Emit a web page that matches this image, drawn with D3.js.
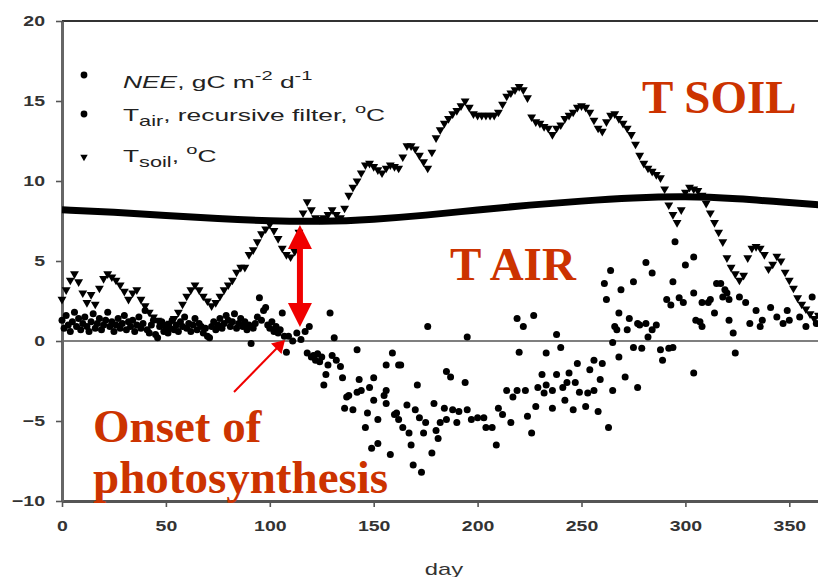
<!DOCTYPE html>
<html>
<head>
<meta charset="utf-8">
<script src="https://cdn.jsdelivr.net/npm/d3@7"></script>
<style>
  body { margin: 0; background: #fff; }
  svg { display: block; }
  .tick text { font-family: "Liberation Sans", Arial, sans-serif; font-size: 15px; fill: #333; font-weight: bold; }
</style>
</head>
<body>
<div id="chart"></div>
<script>
"use strict";

// x tick labels (day) and y tick labels
var dayTicks = [0, 50, 100, 150, 200, 250, 300, 350],
  valueTicks = [-10, -5, 0, 5, 10, 15, 20];

// T air, recursive filter (smooth curve)
var tairDays = [0, 25, 50, 75, 100, 125, 150, 175, 200, 225, 250, 275, 300, 325, 350, 365],
  tairValues = [8.2, 8.05, 7.85, 7.65, 7.5, 7.45, 7.6, 7.85, 8.2, 8.5, 8.75, 8.95, 9.05, 8.9, 8.65, 8.5];

// T soil, one value every 2 days from day 0
var soilStep = 2,
  soilValues = [
    2.6, 3.2, 3.8, 4.2, 3.7, 3.0, 2.4, 2.9, 2.3, 3.3, 3.9, 4.2, 4.0, 3.8, 3.5, 3.1,
    2.6, 3.0, 3.2, 2.6, 2.2, 1.8, 1.5, 1.3, 1.0, 0.8, 1.1, 1.4, 1.8, 2.3, 2.8, 3.2,
    3.5, 3.2, 2.8, 2.5, 2.2, 2.4, 2.8, 3.2, 3.5, 3.8, 4.3, 4.6, 4.6, 5.4, 5.7, 6.2,
    6.7, 7.0, 7.3, 6.9, 6.4, 5.8, 5.4, 5.25, 5.6, 6.8, 8.0, 8.7, 8.2, 7.7, 7.6, 7.7,
    7.9, 8.2, 7.9, 7.7, 8.3, 9.1, 9.6, 10.0, 10.5, 11.0, 11.1, 10.9, 10.7, 10.5, 10.8, 11.0,
    10.9, 10.8, 11.5, 12.2, 12.2, 12.0, 11.6, 11.2, 10.8, 11.8, 12.7, 13.2, 13.6, 13.9, 14.2, 14.4,
    14.7, 15.0, 14.6, 14.2, 14.1, 14.1, 14.1, 14.1, 14.1, 14.3, 14.8, 15.3, 15.5, 15.7, 15.9, 15.7,
    15.2, 14.0, 13.7, 13.6, 13.4, 13.3, 12.9, 13.3, 13.5, 13.9, 14.1, 14.3, 14.6, 14.7, 14.6, 14.3,
    13.8, 13.3, 13.1, 13.7, 14.1, 14.2, 13.9, 13.6, 13.3, 12.9, 12.3, 11.6, 11.1, 10.8, 10.6, 10.4,
    10.2, 9.5, 8.5, 7.9, 7.4, 8.2, 9.3, 9.6, 9.5, 9.4, 9.1, 8.6, 8.0, 7.4, 6.8, 6.2,
    5.2, 4.6, 4.2, 3.8, 4.1, 5.2, 5.8, 5.9, 5.8, 5.4, 4.5, 4.8, 5.3, 5.0, 4.3, 3.8,
    3.3, 2.7, 2.3, 2.0, 1.7, 1.4, 1.6
  ];

// NEE, gC m-2 d-1 : [day, value]
var neeData = [
  [0,1.3],[1,0.8],[2,1.6],[3,1.0],[4,0.6],[5,1.2],[6,1.8],[7,0.9],[8,1.4],[9,0.7],[10,1.1],[11,1.5],
  [12,0.9],[13,0.6],[14,1.2],[15,1.7],[16,0.8],[17,1.1],[18,1.4],[19,0.7],[20,1.0],[21,1.3],[22,1.8],
  [23,0.9],[24,1.2],[25,0.6],[26,1.0],[27,1.4],[28,0.8],[29,1.1],[30,1.6],[31,0.7],[32,1.2],[33,0.9],
  [34,1.3],[35,0.6],[36,1.0],[37,1.5],[38,0.8],[39,1.1],[40,1.9],[41,0.7],[42,0.5],[43,1.0],[44,1.3],
  [45,0.4],[46,0.2],[47,0.9],[48,1.2],[49,0.6],[50,1.0],[51,0.5],[52,0.8],[53,1.3],[54,0.7],[55,1.0],
  [56,0.6],[57,1.2],[58,0.9],[59,1.5],[60,0.8],[61,1.1],[62,0.6],[63,1.0],[64,1.4],[65,0.7],[66,1.1],
  [67,0.9],[68,0.5],[69,0.8],[70,0.3],[71,0.2],[72,0.9],[73,1.2],[74,0.7],[75,1.0],[76,1.4],[77,0.8],
  [78,1.1],[79,1.6],[80,1.3],[81,0.9],[82,1.2],[83,1.7],[84,0.8],[85,1.1],[86,1.4],[87,0.9],[88,1.2],
  [89,0.7],[90,1.0],[91,-0.15],[92,0.8],[93,1.1],[94,1.5],[95,2.7],[96,1.3],[97,1.9],[98,2.1],[99,1.0],
  [100,0.8],[101,1.2],[102,0.6],[103,0.9],[104,0.5],[105,0.7],[106,1.75],[107,0.3],
  [108,-0.7],[109,0.3],[111,0.0],[113,0.5],[115,0.1],[117,0.6],[118,-0.75],[119,0.9],[120,-1.0],
  [121,-0.9],[122,-1.2],[123,-0.8],[124,-1.3],[125,-1.0],[126,-2.75],[127,-2.1],[128,-1.5],[129,1.75],
  [130,-0.9],[131,0.2],[132,-1.2],[134,-1.6],[135,-2.3],[136,-4.2],[137,-3.5],[138,-3.4],[140,-4.3],
  [142,-0.55],[142,-3.2],[143,-2.4],[144,-3.1],[146,-5.4],[147,-4.5],[148,-2.9],[149,-6.7],[150,-2.3],
  [150,-3.7],[152,-4.9],[152,-6.4],[155,-3.4],[156,-3.1],[156,-3.9],[156,-1.5],[158,-7.1],[159,-0.75],
  [160,-4.6],[161,-4.5],[162,-4.9],[162,-1.5],[163,-1.5],[164,-5.4],[166,-4.0],[167,-5.75],[168,-6.5],
  [169,-7.75],[170,-4.3],[171,-2.75],[172,-4.8],[173,-8.2],[174,-5.75],[175,-5.1],[176,0.9],[178,-7.0],
  [179,-3.9],[180,-5.6],[181,-6.1],[182,-5.1],[184,-4.2],[185,-1.9],[185,-4.9],[187,-2.25],[188,-4.3],
  [190,-5.1],[191,-4.4],[194,-2.6],[195,0.25],[195,-4.3],[197,-4.9],[200,-4.8],[203,-4.8],[204,-5.4],
  [207,-5.4],[209,-6.5],[210,-4.2],[212,-4.6],[214,-3.1],[216,-5.1],[217,-3.5],[219,-3.1],[219,1.4],
  [220,-0.7],[222,0.9],[223,-3.1],[224,-4.7],[226,-5.75],[227,1.6],[228,-4.1],[229,-2.9],[231,-2.1],
  [232,-3.25],[233,-2.75],[233,-0.75],[236,-4.2],[236,-3.1],[238,-2.1],[238,0.4],[240,-0.4],[241,-2.9],
  [242,-3.7],[243,-2.6],[244,-2.0],[246,-4.3],[247,-2.6],[248,-1.4],[249,-3.2],[252,-4.1],[253,-3.25],
  [254,-1.8],[256,-1.2],[256,-3.1],[258,-4.4],[259,-2.4],[260,-1.4],[261,3.6],[262,2.6],[263,-5.4],
  [264,4.4],[265,-3.1],[265,-0.1],[266,0.9],[267,0.7],[268,-1.0],[268,1.75],[269,3.2],[271,-2.25],
  [272,0.7],[273,1.4],[275,-0.4],[275,3.7],[277,-2.9],[277,1.1],[278,1.0],[279,-0.45],[281,4.9],
  [281,1.1],[282,0.25],[284,4.25],[284,0.7],[286,1.0],[288,-0.55],[289,-1.2],[291,2.6],[292,-0.45],
  [293,2.25],[294,3.7],[294,-0.4],[295,6.2],[297,2.7],[299,2.4],[300,4.75],[304,5.25],[304,3.0],
  [304,-2.0],[305,1.3],[307,1.2],[308,2.4],[308,0.9],[311,2.4],[312,2.6],[314,1.75],[315,3.6],
  [317,3.6],[318,2.75],[319,3.2],[320,3.0],[321,2.6],[321,1.3],[323,0.5],[324,-0.75],[326,2.75],
  [329,2.4],[331,1.1],[334,1.9],[336,0.9],[337,1.3],[341,2.1],[344,1.5],[347,1.1],[349,1.9],
  [350,1.3],[355,1.5],[358,0.9],[361,2.75],[363,1.1]
];

var width = 818,
  height = 577,
  labelRed = "#cc3300",
  arrowRed = "#f00000",
  stretch = 1.3; // the source picture is stretched sideways

var svg = d3.select("#chart").append("svg")
  .attr("width", width)
  .attr("height", height);

var x = d3.scaleLinear().domain([0, 365]).range([62, 62 + 365 * 2.078]);
var y = d3.scaleLinear().domain([-10, 20]).range([501, 21]);

// top frame line
svg.append("line")
  .attr("x1", x(0)).attr("x2", width)
  .attr("y1", y(20)).attr("y2", y(20))
  .attr("stroke", "#333").attr("stroke-width", 2);

// zero line
svg.append("line")
  .attr("x1", x(0)).attr("x2", width)
  .attr("y1", y(0)).attr("y2", y(0))
  .attr("stroke", "#555").attr("stroke-width", 1.6);

// axes
var xAxis = svg.append("g")
  .attr("transform", "translate(0," + y(-10) + ")")
  .call(d3.axisBottom(x).tickValues(dayTicks).tickSize(6).tickPadding(13).tickSizeOuter(0));
var yAxis = svg.append("g")
  .attr("transform", "translate(" + x(0) + ",0)")
  .call(d3.axisLeft(y).tickValues(valueTicks).tickSize(6).tickPadding(5).tickSizeOuter(0));

xAxis.select(".domain").attr("stroke", "#555").attr("stroke-width", 3);
yAxis.select(".domain").attr("stroke", "#666").attr("stroke-width", 3);
xAxis.selectAll(".tick line").attr("stroke", "#555").attr("stroke-width", 1.6);
yAxis.selectAll(".tick line").attr("stroke", "#555").attr("stroke-width", 1.6);
xAxis.selectAll(".tick text").attr("transform", "scale(" + stretch + ",1)");
yAxis.selectAll(".tick text")
  .attr("x", -17 / stretch)
  .attr("transform", "scale(" + stretch + ",1)");

svg.append("text")
  .attr("transform", "translate(444,575) scale(1.4,1)")
  .attr("text-anchor", "middle")
  .style("font-family", "Liberation Sans, Arial, sans-serif")
  .style("font-size", "17px")
  .attr("fill", "#333")
  .text("day");

// T air curve
var tairLine = d3.line()
  .x(function(d) { return x(d[0]); })
  .y(function(d) { return y(d[1]); })
  .curve(d3.curveBasis);

svg.append("path")
  .datum(tairDays.map(function(d, i) { return [d, tairValues[i]]; }))
  .attr("d", tairLine)
  .attr("fill", "none")
  .attr("stroke", "#000")
  .attr("stroke-width", 7);

// T soil triangles
var tri = d3.symbol().type(d3.symbolTriangle).size(34);
svg.append("g").selectAll("path")
  .data(soilValues)
  .join("path")
  .attr("d", tri)
  .attr("transform", function(d, i) {
    return "translate(" + x(i * soilStep) + "," + y(d) + ") rotate(180)";
  })
  .attr("fill", "#000");

// NEE dots
svg.append("g").selectAll("circle")
  .data(neeData)
  .join("circle")
  .attr("cx", function(d) { return x(d[0]); })
  .attr("cy", function(d) { return y(d[1]); })
  .attr("r", 3.5)
  .attr("fill", "#000");

// legend markers
svg.append("circle").attr("cx", 84).attr("cy", 75).attr("r", 3.4).attr("fill", "#000");
svg.append("circle").attr("cx", 84).attr("cy", 114).attr("r", 3.4).attr("fill", "#000");
svg.append("path").attr("d", d3.symbol().type(d3.symbolTriangle).size(24))
  .attr("transform", "translate(84,157) rotate(180)").attr("fill", "#000");

// legend texts, stretched like the source
var legend = svg.append("g")
  .attr("transform", "translate(123,0) scale(1.55,1)")
  .style("font-family", "Liberation Sans, Arial, sans-serif")
  .style("font-size", "17px")
  .attr("fill", "#222");

var t1 = legend.append("text").attr("x", 0).attr("y", 88);
t1.append("tspan").attr("font-style", "italic").text("NEE");
t1.append("tspan").text(", gC m");
t1.append("tspan").attr("dy", -8).attr("font-size", "13px").text("-2");
t1.append("tspan").attr("dy", 8).text(" d");
t1.append("tspan").attr("dy", -8).attr("font-size", "13px").text("-1");

var t2 = legend.append("text").attr("x", 0).attr("y", 121);
t2.append("tspan").text("T");
t2.append("tspan").attr("dy", 5).attr("font-size", "14px").text("air");
t2.append("tspan").attr("dy", -5).text(", recursive filter, ");
t2.append("tspan").attr("dy", -8).attr("font-size", "13px").text("o");
t2.append("tspan").attr("dy", 8).text("C");

var t3 = legend.append("text").attr("x", 0).attr("y", 162);
t3.append("tspan").text("T");
t3.append("tspan").attr("dy", 5).attr("font-size", "14px").text("soil");
t3.append("tspan").attr("dy", -5).text(", ");
t3.append("tspan").attr("dy", -8).attr("font-size", "13px").text("o");
t3.append("tspan").attr("dy", 8).text("C");

// red annotations
var notes = svg.append("g")
  .style("font-family", "Liberation Serif, Times New Roman, serif")
  .style("font-size", "47px")
  .style("font-weight", "bold")
  .attr("fill", labelRed);

notes.append("text").attr("x", 642).attr("y", 113).text("T SOIL");
notes.append("text").attr("x", 450).attr("y", 280).text("T AIR");
notes.append("text").attr("x", 93).attr("y", 442).text("Onset of");
notes.append("text").attr("x", 93).attr("y", 493).text("photosynthesis");

// double arrow between T air and onset
var ax = x(114.5);
svg.append("rect")
  .attr("x", ax - 3).attr("y", 245).attr("width", 6).attr("height", 62)
  .attr("fill", arrowRed);
svg.append("path")
  .attr("d", "M" + ax + ",225 L" + (ax + 12) + ",249 L" + (ax - 12) + ",249 Z")
  .attr("fill", arrowRed);
svg.append("path")
  .attr("d", "M" + ax + ",327 L" + (ax + 12) + ",303 L" + (ax - 12) + ",303 Z")
  .attr("fill", arrowRed);

// thin pointer arrow
svg.append("line")
  .attr("x1", 234).attr("y1", 392).attr("x2", 277).attr("y2", 348)
  .attr("stroke", arrowRed).attr("stroke-width", 2);
svg.append("path")
  .attr("d", "M285,340 L281.5,354 L271,343.5 Z")
  .attr("fill", arrowRed);
</script>
</body>
</html>
